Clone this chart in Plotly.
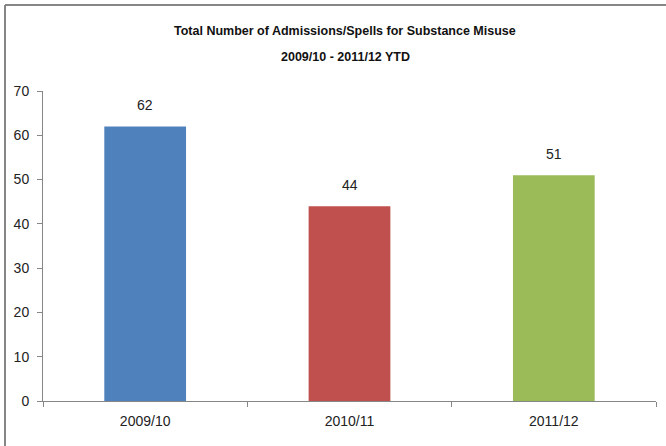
import plotly.graph_objects as go

categories = ["2009/10", "2010/11", "2011/12"]
values = [62, 44, 51]
colors = ["#4F81BD", "#C0504D", "#9BBB59"]
y_ticks = [0, 10, 20, 30, 40, 50, 60, 70]
title_lines = ["Total Number of Admissions/Spells for Substance Misuse", "2009/10 - 2011/12 YTD"]

FONT = "Liberation Sans Narrow, Arial Narrow, Liberation Sans, Arial, sans-serif"

fig = go.Figure()
fig.add_trace(go.Bar(
    x=categories, y=values,
    marker=dict(color=colors, line=dict(width=0)),
    width=0.4,
    hoverinfo="x+y",
))

for c, v in zip(categories, values):
    fig.add_annotation(x=c, y=v, text=str(v), showarrow=False,
                       yshift=21, font=dict(family=FONT, size=14, color="#222222"))

# title lines as paper annotations (plot top at y=91 px)
for i, (line, ypix) in enumerate(zip(title_lines, [31, 57])):
    fig.add_annotation(xref="paper", yref="paper", x=(345 - 43) / 613,
                       y=1 + (91 - ypix) / 310, text="<b>" + line + "</b>",
                       showarrow=False, xanchor="center", yanchor="middle",
                       font=dict(family=FONT, size=12.5, color="#111111"))

fig.update_layout(
    width=666, height=446,
    margin=dict(l=43, r=10, t=91, b=45, autoexpand=False),
    paper_bgcolor="white", plot_bgcolor="white",
    showlegend=False,
    font=dict(family=FONT, size=14, color="#222222"),
    xaxis=dict(
        automargin=False,
        showline=True, linecolor="#868686", linewidth=1,
        ticks="outside", tickson="boundaries", ticklen=5, tickcolor="#868686",
        showgrid=False, tickfont=dict(family=FONT, size=14, color="#222222"),
        ticklabelstandoff=7,
        range=[-0.5, 2.5],
    ),
    yaxis=dict(
        automargin=False,
        range=[0, 70], tickvals=y_ticks,
        showline=True, linecolor="#868686", linewidth=1,
        ticks="outside", ticklen=5, tickcolor="#868686",
        showgrid=False, zeroline=False,
        ticklabelstandoff=5,
        tickfont=dict(family=FONT, size=14, color="#222222"),
    ),
    shapes=[
        dict(type="line", xref="paper", yref="paper", x0=-38/613, x1=1.1, y0=1 + 86/310, y1=1 + 86/310,
             line=dict(color="#868686", width=2)),
        dict(type="line", xref="paper", yref="paper", x0=-38/613, x1=-38/613, y0=-0.2, y1=1 + 86/310,
             line=dict(color="#868686", width=2)),
    ],
)

fig.write_html("out.html", config={"displayModeBar": False},
               post_script="document.body.style.margin='0';document.body.style.overflow='hidden';")
